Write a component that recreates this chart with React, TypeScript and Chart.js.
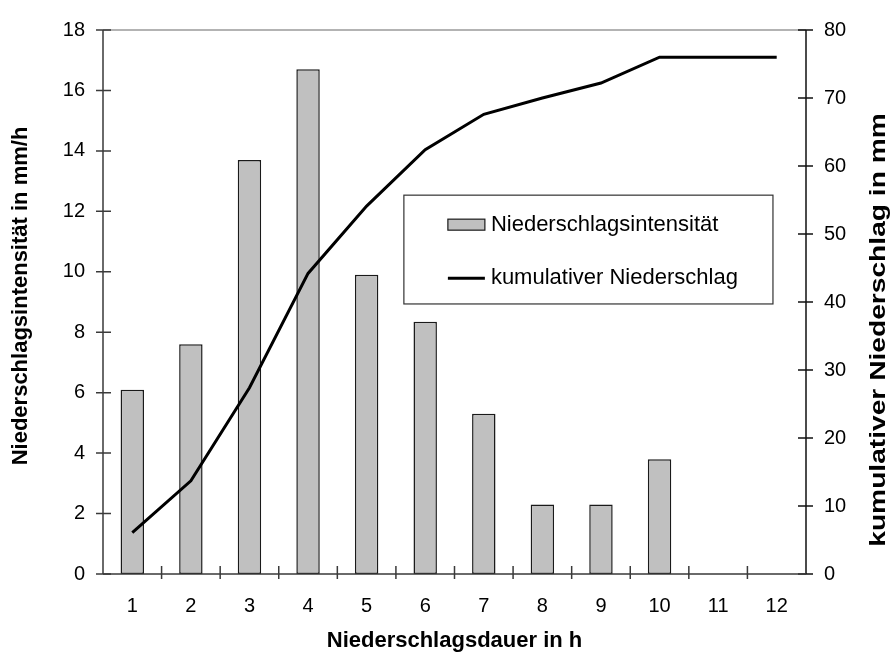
import React, { useEffect, useRef } from "react";
import { Chart, registerables } from "chart.js";

Chart.register(...registerables);

// Stundenwerte eines Starkregenereignisses
const hours = ["1", "2", "3", "4", "5", "6", "7", "8", "9", "10", "11", "12"];
const intensity = [6.1, 7.6, 13.7, 16.7, 9.9, 8.35, 5.3, 2.3, 2.3, 3.8, null, null];
const cumulative = [6.1, 13.7, 27.4, 44.2, 54.1, 62.4, 67.6, 70.0, 72.2, 76.0, 76.0, 76.0];

const leftTicks = [0, 2, 4, 6, 8, 10, 12, 14, 16, 18];
const rightTicks = [0, 10, 20, 30, 40, 50, 60, 70, 80];

const barLabel = "Niederschlagsintensität";
const lineLabel = "kumulativer Niederschlag";
const xTitle = "Niederschlagsdauer in h";
const yTitle = "Niederschlagsintensität in mm/h";
const y1Title = "kumulativer Niederschlag in mm";

const FONT = "'Liberation Sans', Arial, Helvetica, sans-serif";

// Achsenlinien mit durchkreuzenden Teilstrichen
const axisFrame = {
  id: "axisFrame",
  afterDatasetsDraw(chart: any) {
    const { ctx, chartArea: ca, scales } = chart;
    const x = scales.x;
    const y = scales.y;
    const y1 = scales.y1;
    ctx.save();
    ctx.lineCap = "butt";

    // obere Begrenzung
    ctx.strokeStyle = "#9a9a9a";
    ctx.lineWidth = 1.5;
    ctx.beginPath();
    ctx.moveTo(ca.left, ca.top);
    ctx.lineTo(ca.right, ca.top);
    ctx.stroke();

    // linke Achse
    ctx.strokeStyle = "#3a3a3a";
    ctx.beginPath();
    ctx.moveTo(ca.left, ca.top);
    ctx.lineTo(ca.left, ca.bottom);
    for (const v of leftTicks) {
      const py = y.getPixelForValue(v);
      ctx.moveTo(ca.left - 7, py);
      ctx.lineTo(ca.left + 8, py);
    }
    ctx.stroke();

    // rechte Achse
    ctx.strokeStyle = "#111";
    ctx.beginPath();
    ctx.moveTo(ca.right, ca.top);
    ctx.lineTo(ca.right, ca.bottom);
    for (const v of rightTicks) {
      const py = y1.getPixelForValue(v);
      ctx.moveTo(ca.right - 8, py);
      ctx.lineTo(ca.right + 7, py);
    }
    ctx.stroke();

    // untere Achse mit Teilstrichen zwischen den Stunden
    ctx.strokeStyle = "#3a3a3a";
    ctx.beginPath();
    ctx.moveTo(ca.left, ca.bottom);
    ctx.lineTo(ca.right, ca.bottom);
    for (let i = 1; i < hours.length; i++) {
      const px = (x.getPixelForValue(i - 1) + x.getPixelForValue(i)) / 2;
      ctx.moveTo(px, ca.bottom - 8);
      ctx.lineTo(px, ca.bottom + 5);
    }
    ctx.stroke();
    ctx.restore();
  },
};

// Achsentitel (beide vertikalen Titel von unten nach oben gelesen)
const axisTitles = {
  id: "axisTitles",
  afterDraw(chart: any) {
    const { ctx, chartArea: ca } = chart;
    ctx.save();
    ctx.fillStyle = "#000";
    ctx.font = `bold 22px ${FONT}`;
    ctx.textAlign = "center";
    ctx.textBaseline = "middle";
    ctx.fillText(xTitle, (ca.left + ca.right) / 2, 641);

    ctx.save();
    ctx.translate(21, 296);
    ctx.rotate(-Math.PI / 2);
    ctx.fillText(yTitle, 0, 0);
    ctx.restore();

    // rechter Titel etwas gedehnt
    ctx.save();
    ctx.translate(879, 330);
    ctx.rotate(-Math.PI / 2);
    ctx.scale(1.28, 1);
    ctx.fillText(y1Title, 0, 0);
    ctx.restore();
    ctx.restore();
  },
};

// Legende im Diagrammfeld
const boxLegend = {
  id: "boxLegend",
  afterDraw(chart: any) {
    const { ctx, chartArea: ca } = chart;
    const w = ca.right - ca.left;
    const h = ca.bottom - ca.top;
    const bx = ca.left + 0.428 * w;
    const by = ca.top + 0.3036 * h;
    const bw = 0.525 * w;
    const bh = 0.2 * h;
    ctx.save();
    ctx.fillStyle = "#fff";
    ctx.fillRect(bx, by, bw, bh);
    ctx.strokeStyle = "#333";
    ctx.lineWidth = 1.2;
    ctx.strokeRect(bx, by, bw, bh);

    const bar = chart.data.datasets[0];
    const line = chart.data.datasets[1];

    ctx.fillStyle = bar.backgroundColor;
    ctx.fillRect(bx + 44, by + 24, 37, 11);
    ctx.strokeStyle = bar.borderColor;
    ctx.lineWidth = 1.2;
    ctx.strokeRect(bx + 44, by + 24, 37, 11);

    ctx.strokeStyle = line.borderColor;
    ctx.lineWidth = line.borderWidth;
    ctx.beginPath();
    ctx.moveTo(bx + 44, by + 83);
    ctx.lineTo(bx + 81, by + 83);
    ctx.stroke();

    ctx.fillStyle = "#000";
    ctx.font = `22px ${FONT}`;
    ctx.textAlign = "left";
    ctx.textBaseline = "middle";
    ctx.fillText(bar.label, bx + 87, by + 29.5);
    ctx.fillText(line.label, bx + 87, by + 83);
    ctx.restore();
  },
};

export default function App() {
  const canvasRef = useRef<HTMLCanvasElement | null>(null);

  useEffect(() => {
    const canvas = canvasRef.current;
    if (!canvas) return;
    const chart = new Chart(canvas, {
      type: "bar",
      data: {
        labels: hours,
        datasets: [
          {
            type: "bar",
            label: barLabel,
            data: intensity,
            yAxisID: "y",
            backgroundColor: "#c0c0c0",
            borderColor: "#1a1a1a",
            borderWidth: 1.5,
            borderSkipped: false,
            categoryPercentage: 1,
            barPercentage: 0.4,
            order: 2,
          },
          {
            type: "line",
            label: lineLabel,
            data: cumulative,
            yAxisID: "y1",
            borderColor: "#000",
            borderWidth: 3,
            pointRadius: 0,
            tension: 0,
            fill: false,
            order: 1,
          },
        ] as any,
      },
      options: {
        responsive: false,
        animation: false,
        devicePixelRatio: 1,
        layout: { padding: { top: 24, left: 0, right: 0, bottom: 0 } },
        plugins: {
          legend: { display: false },
          tooltip: { enabled: false },
          title: { display: false },
        },
        scales: {
          x: {
            type: "category",
            offset: true,
            grid: { display: false, drawTicks: false },
            border: { display: false },
            ticks: {
              color: "#000",
              font: { family: FONT, size: 20 },
              padding: 20,
              maxRotation: 0,
              autoSkip: false,
            },
            afterFit: (s: any) => {
              s.height = 78;
            },
          },
          y: {
            position: "left",
            min: 0,
            max: 18,
            grid: { display: false, drawTicks: false },
            border: { display: false },
            ticks: {
              stepSize: 2,
              color: "#000",
              font: { family: FONT, size: 20 },
              padding: 18,
            },
            afterFit: (s: any) => {
              s.width = 103;
            },
          },
          y1: {
            position: "right",
            min: 0,
            max: 80,
            grid: { display: false, drawTicks: false },
            border: { display: false },
            ticks: {
              stepSize: 10,
              color: "#000",
              font: { family: FONT, size: 20 },
              padding: 18,
            },
            afterFit: (s: any) => {
              s.width = 85;
            },
          },
        },
      } as any,
      plugins: [axisFrame, boxLegend, axisTitles],
    });
    return () => chart.destroy();
  }, []);

  return (
    <div style={{ position: "absolute", left: 0, top: 0, width: 891, height: 652, background: "#fff" }}>
      <canvas ref={canvasRef} width={891} height={652} />
    </div>
  );
}
